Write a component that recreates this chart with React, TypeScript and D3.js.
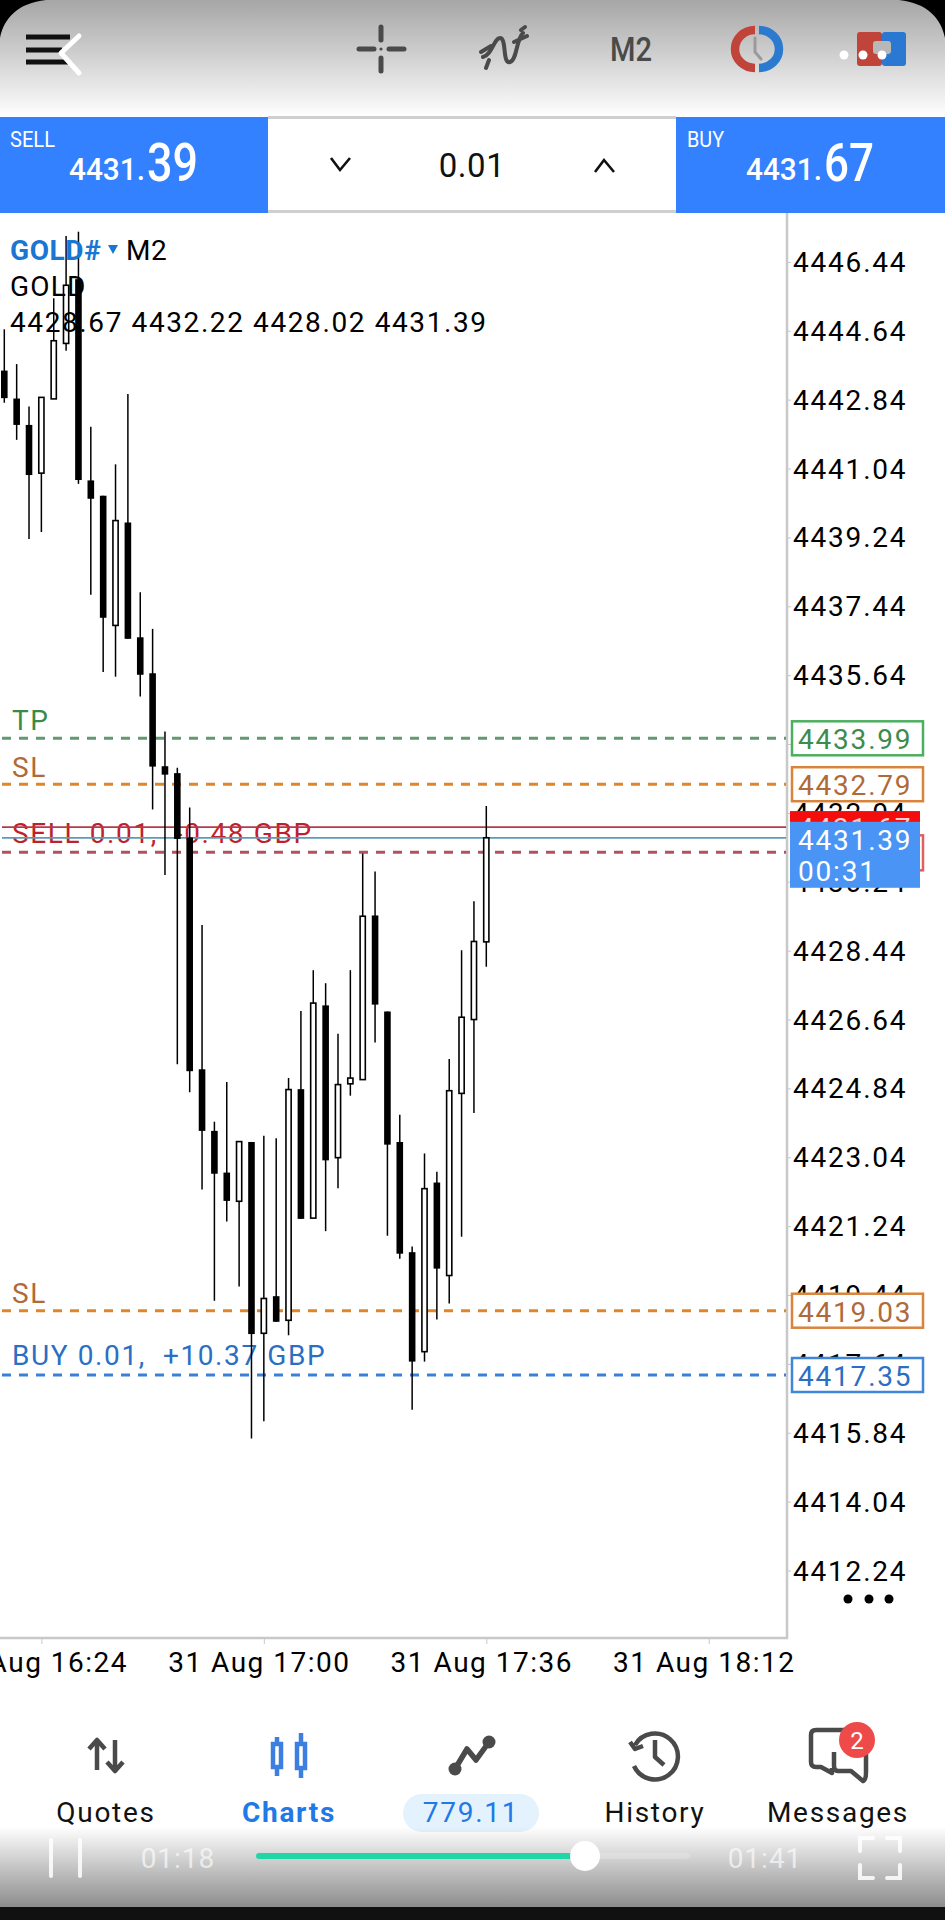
import React, { useRef, useEffect } from 'react';
import * as d3 from 'd3';

// candles, oldest first, 2 minute bars
const opens = [4443.6, 4442.87, 4442.18, 4440.92, 4442.86, 4444.31, 4445.99, 4440.73, 4440.33, 4436.94, 4439.63, 4436.63, 4435.69, 4433.26, 4433.08, 4431.4, 4425.34, 4423.73, 4422.64, 4421.89, 4423.44, 4418.44, 4419.41, 4418.78, 4424.82, 4421.45, 4427.01, 4423.03, 4424.96, 4425.07, 4429.36, 4426.85, 4423.44, 4420.56, 4417.96, 4422.38, 4419.95, 4424.71, 4426.64, 4428.67];
const highs = [4444.68, 4443.77, 4442.66, 4442.9, 4445.49, 4447.12, 4447.23, 4442.13, 4440.33, 4441.15, 4442.99, 4437.81, 4436.85, 4434.17, 4433.22, 4432.18, 4429.11, 4423.97, 4425.01, 4423.45, 4423.44, 4423.6, 4423.54, 4425.11, 4426.86, 4427.93, 4427.59, 4426.27, 4427.93, 4430.98, 4430.51, 4426.85, 4424.15, 4420.71, 4423.14, 4422.66, 4425.61, 4428.45, 4429.73, 4432.22];
const lows = [4442.76, 4441.79, 4439.2, 4439.38, 4442.86, 4444.12, 4440.64, 4437.74, 4435.72, 4435.6, 4436.59, 4435.08, 4432.13, 4430.42, 4425.47, 4424.74, 4422.2, 4419.29, 4421.36, 4419.66, 4415.69, 4416.14, 4418.74, 4418.39, 4421.43, 4421.45, 4421.11, 4422.23, 4424.65, 4425.07, 4426.04, 4420.99, 4420.39, 4416.44, 4417.7, 4418.8, 4419.22, 4420.96, 4424.2, 4428.02];
const closes = [4442.88, 4442.18, 4440.87, 4442.9, 4444.38, 4445.83, 4440.74, 4440.25, 4437.14, 4439.68, 4436.59, 4435.65, 4433.25, 4433.04, 4431.36, 4425.29, 4423.73, 4422.61, 4421.9, 4423.45, 4418.42, 4419.35, 4418.74, 4424.81, 4421.43, 4427.07, 4422.96, 4424.94, 4425.11, 4429.34, 4427.03, 4423.37, 4420.52, 4417.7, 4422.22, 4420.13, 4424.78, 4426.7, 4428.68, 4431.39];

const priceTicks = [4446.44, 4444.64, 4442.84, 4441.04, 4439.24, 4437.44, 4435.64, 4433.84, 4432.04, 4430.24, 4428.44, 4426.64, 4424.84, 4423.04, 4421.24, 4419.44, 4417.64, 4415.84, 4414.04, 4412.24];
const timeTicks = ['2025-08-31T16:24', '2025-08-31T17:00', '2025-08-31T17:36', '2025-08-31T18:12'];
const firstBar = '2025-08-31T16:18';
const lastBar = '2025-08-31T17:36';

const tpPrice = 4433.99;
const slUpperPrice = 4432.79;
const askPrice = 4431.67;
const bidPrice = 4431.39;
const sellPrice = 4431.01;
const slLowerPrice = 4419.03;
const buyPrice = 4417.35;

const font = 'Roboto, sans-serif';
const W = 945;
const H = 1920;
const plotRight = 787;
const plotBottom = 1638;

const App: React.FC = () => {
  const chartRef = useRef<SVGGElement | null>(null);

  useEffect(() => {
    if (!chartRef.current) return;
    const g = d3.select(chartRef.current);
    g.selectAll('*').remove();

    const x = d3.scaleTime()
      .domain([new Date(firstBar), new Date(lastBar)])
      .range([4.3, 486.3]);
    const y = d3.scaleLinear()
      .domain([tpPrice, buyPrice])
      .range([738.3, 1375]);
    const barTime = (i: number) => d3.timeMinute.offset(new Date(firstBar), i * 2);

    // axes
    const yAxis = d3.axisRight(y)
      .tickValues(priceTicks)
      .tickSize(4)
      .tickPadding(2)
      .tickFormat(d => d3.format('.2f')(d as number));
    g.append('g')
      .attr('transform', `translate(${plotRight},0)`)
      .call(yAxis)
      .call(s => s.select('.domain').remove())
      .call(s => s.selectAll('.tick line').attr('stroke', '#c8c8c8'))
      .call(s => s.selectAll('.tick text')
        .attr('fill', '#000')
        .attr('dy', '0.34em')
        .style('font-family', font)
        .style('font-size', '28px')
        .style('letter-spacing', '1.8px'));

    const xAxis = d3.axisBottom(x)
      .tickValues(timeTicks.map(d => new Date(d)))
      .tickSize(6)
      .tickPadding(8)
      .tickFormat(d => d3.timeFormat('%d %b %H:%M')(d as Date));
    g.append('g')
      .attr('transform', `translate(0,${plotBottom})`)
      .call(xAxis)
      .call(s => s.select('.domain').remove())
      .call(s => s.selectAll('.tick line').attr('stroke', '#c8c8c8'))
      .call(s => s.selectAll('.tick text')
        .attr('fill', '#000')
        .attr('dx', -5)
        .style('font-family', font)
        .style('font-size', '28px')
        .style('letter-spacing', '1.5px'));

    // frame
    g.append('path')
      .attr('d', `M${plotRight},213V${plotBottom}H0`)
      .attr('fill', 'none')
      .attr('stroke', '#c8c8c8')
      .attr('stroke-width', 2.5);

    // order labels sit under the candles
    const labels = [
      { text: 'TP', base: 730, color: '#3a8a4a' },
      { text: 'SL', base: 776.7, color: '#b06a3a' },
      { text: 'SELL 0.01,  -0.48 GBP', base: 843.3, color: '#c01f2e' },
      { text: 'SL', base: 1303, color: '#b06a3a' },
      { text: 'BUY 0.01,  +10.37 GBP', base: 1365, color: '#2a6fc4' },
    ];
    g.append('g').selectAll('text')
      .data(labels)
      .join('text')
      .attr('x', 12)
      .attr('y', d => d.base)
      .attr('fill', d => d.color)
      .style('font-family', font)
      .style('font-size', '28px')
      .style('letter-spacing', '1.6px')
      .style('white-space', 'pre')
      .text(d => d.text);

    // order and price lines
    const dashed = [
      { p: tpPrice, color: '#5f9a70' },
      { p: slUpperPrice, color: '#e0862a' },
      { p: sellPrice, color: '#b5505e' },
      { p: slLowerPrice, color: '#e0862a' },
      { p: buyPrice, color: '#3a80d8' },
    ];
    g.append('g').selectAll('line')
      .data(dashed)
      .join('line')
      .attr('x1', 2)
      .attr('x2', plotRight - 1)
      .attr('y1', d => y(d.p))
      .attr('y2', d => y(d.p))
      .attr('stroke', d => d.color)
      .attr('stroke-width', 3)
      .attr('stroke-dasharray', '9 8');

    const solid = [
      { p: askPrice, color: '#b33a4a' },
      { p: bidPrice, color: '#5b9bb5' },
    ];
    g.append('g').selectAll('line')
      .data(solid)
      .join('line')
      .attr('x1', 2)
      .attr('x2', plotRight - 1)
      .attr('y1', d => y(d.p))
      .attr('y2', d => y(d.p))
      .attr('stroke', d => d.color)
      .attr('stroke-width', 1.8);

    // candles
    const bars = opens.map((o, i) => ({
      t: barTime(i), o, h: highs[i], l: lows[i], c: closes[i], up: closes[i] > o,
    }));
    const candle = g.append('g').selectAll('g')
      .data(bars)
      .join('g');
    candle.append('line')
      .attr('x1', d => x(d.t))
      .attr('x2', d => x(d.t))
      .attr('y1', d => y(d.h))
      .attr('y2', d => y(d.l))
      .attr('stroke', '#000')
      .attr('stroke-width', 1.5);
    candle.append('rect')
      .attr('x', d => x(d.t) - (d.up ? 2.6 : 3.3))
      .attr('width', d => (d.up ? 5.2 : 6.6))
      .attr('y', d => y(Math.max(d.o, d.c)))
      .attr('height', d => Math.abs(y(d.o) - y(d.c)))
      .attr('fill', d => (d.up ? '#fff' : '#000'))
      .attr('stroke', '#000')
      .attr('stroke-width', d => (d.up ? 1.6 : 0));

    // price boxes on the right
    const boxes = [
      { p: tpPrice, stroke: '#4caf5f', text: '#3d8b4f' },
      { p: slUpperPrice, stroke: '#d9843b', text: '#b06a3a' },
      { p: slLowerPrice, stroke: '#d9843b', text: '#b06a3a' },
      { p: buyPrice, stroke: '#3f85d8', text: '#2a6fc4' },
    ];
    const box = g.append('g').selectAll('g')
      .data(boxes)
      .join('g')
      .attr('transform', d => `translate(0,${y(d.p)})`);
    box.append('rect')
      .attr('x', 792)
      .attr('y', -17)
      .attr('width', 131)
      .attr('height', 34)
      .attr('fill', '#fff')
      .attr('stroke', d => d.stroke)
      .attr('stroke-width', 2.5);
    box.append('text')
      .attr('x', 798)
      .attr('y', 11)
      .attr('fill', d => d.text)
      .style('font-family', font)
      .style('font-size', '28px')
      .style('letter-spacing', '1.8px')
      .text(d => d3.format('.2f')(d.p));

    g.append('rect')
      .attr('x', 792)
      .attr('y', y(sellPrice) - 17)
      .attr('width', 131)
      .attr('height', 35)
      .attr('fill', '#fff')
      .attr('stroke', '#e06060')
      .attr('stroke-width', 2.5);
    g.append('rect')
      .attr('x', 790)
      .attr('y', y(askPrice) - 16)
      .attr('width', 130)
      .attr('height', 34)
      .attr('fill', '#f40d0d');
    g.append('text')
      .attr('x', 798)
      .attr('y', y(askPrice) + 11)
      .attr('fill', '#ffd0d0')
      .style('font-family', font)
      .style('font-size', '28px')
      .style('letter-spacing', '1.8px')
      .text(d3.format('.2f')(askPrice));
    g.append('rect')
      .attr('x', 790)
      .attr('y', y(bidPrice) - 16)
      .attr('width', 130)
      .attr('height', 66)
      .attr('fill', '#4a94f5');
    const bidLabel = [d3.format('.2f')(bidPrice), '00:31'];
    g.append('g').selectAll('text')
      .data(bidLabel)
      .join('text')
      .attr('x', 798)
      .attr('y', (_, i) => y(bidPrice) + 12 + i * 31)
      .attr('fill', '#fff')
      .style('font-family', font)
      .style('font-size', '28px')
      .style('letter-spacing', '1.8px')
      .text(d => d);

    // header text over the candles
    const head = g.append('g').style('font-family', font).style('font-size', '28px');
    head.append('text').attr('x', 10).attr('y', 260).attr('fill', '#1976d2').attr('font-weight', 700).style('letter-spacing', '0.6px').text('GOLD#');
    head.append('path').attr('d', 'M108,245H118L113,254Z').attr('fill', '#1976d2');
    head.append('text').attr('x', 126).attr('y', 260).attr('fill', '#000').style('letter-spacing', '0.6px').text('M2');
    head.append('text').attr('x', 10).attr('y', 296).attr('fill', '#000').style('letter-spacing', '1.2px').text('GOLD');
    head.append('text')
      .attr('x', 10)
      .attr('y', 332)
      .attr('fill', '#000')
      .style('letter-spacing', '1.6px')
      .text([opens[39], highs[39], lows[39], closes[39]].map(d3.format('.2f')).join(' '));

    // more dots under the price axis
    g.append('g').selectAll('circle')
      .data([848, 869, 889])
      .join('circle')
      .attr('cx', d => d)
      .attr('cy', 1599)
      .attr('r', 4.5)
      .attr('fill', '#000');
  }, []);

  const ink = '#4a4a4a';
  return (
    <svg width={W} height={H} viewBox={`0 0 ${W} ${H}`}
      style={{ position: 'absolute', left: 0, top: 0, display: 'block', background: '#fff' }}
      fontFamily={font}>
      <defs>
        <linearGradient id="topFade" x1="0" y1="0" x2="0" y2="1">
          <stop offset="0" stopColor="#a6a6a6" />
          <stop offset="0.5" stopColor="#d2d2d2" />
          <stop offset="1" stopColor="#ffffff" />
        </linearGradient>
        <linearGradient id="bottomFade" x1="0" y1="0" x2="0" y2="1">
          <stop offset="0" stopColor="#888" stopOpacity="0" />
          <stop offset="1" stopColor="#8c8c8c" stopOpacity="1" />
        </linearGradient>
      </defs>

      {/* top bar */}
      <rect width={W} height={117} fill="url(#topFade)" />
      <path d={`M0,0H46C18,3 4,18 0,38Z`} fill="#000" />
      <path d={`M${W},0H${W - 46}C${W - 18},3 ${W - 4},18 ${W},38Z`} fill="#000" />
      <g stroke="#111" strokeWidth={5}>
        <line x1={26} x2={70} y1={37} y2={37} />
        <line x1={26} x2={62} y1={50} y2={50} />
        <line x1={26} x2={70} y1={62} y2={62} />
      </g>
      <path d="M79,36L61,53L79,73" fill="none" stroke="#fff" strokeWidth={5} strokeLinecap="round" strokeLinejoin="round" />
      <g stroke={ink} strokeWidth={5} strokeLinecap="round" fill="none">
        <path d="M381,27V40M381,58V71M359,49H374M389,49H404" />
        <path d="M483,57C492,55 494,38 500,38C507,38 502,64 510,62C517,60 516,40 523,33" strokeWidth={4} />
        <path d="M481,52L491,46M486,68L489,60M514,42L527,36M521,30L525,27" strokeWidth={4} />
      </g>
      <circle cx={381} cy={49} r={1.6} fill={ink} />
      <text x={631} y={61} textAnchor="middle" fontSize={34} fontWeight={500} fill={ink} textLength={42} lengthAdjust="spacingAndGlyphs">M2</text>
      <path d="M755,30A20,19 0 0 0 755,68" fill="none" stroke="#c0443a" strokeWidth={8.5} />
      <path d="M759,30A20,19 0 0 1 759,68" fill="none" stroke="#2a7ad0" strokeWidth={8.5} />
      <path d="M755,38V52L761,59" fill="none" stroke="#9a9a9a" strokeWidth={3} strokeLinecap="round" />
      <rect x={857} y={32} width={25} height={34} rx={3} fill="#c0443a" />
      <rect x={882} y={32} width={24} height={34} rx={3} fill="#2a78d2" />
      <rect x={873} y={41} width={18} height={13} rx={3} fill="#b8b8b8" />
      <circle cx={844} cy={55} r={4.5} fill="#fff" />
      <circle cx={863} cy={55} r={4.5} fill="#fff" />
      <circle cx={882} cy={55} r={4.5} fill="#fff" />

      {/* trade panel */}
      <rect x={268} y={116} width={408} height={97} fill="#fff" />
      <rect x={268} y={116} width={408} height={3} fill="#cfcfcf" />
      <rect x={268} y={210} width={408} height={3} fill="#cfcfcf" />
      <rect x={0} y={117} width={268} height={96} fill="#3381ff" />
      <rect x={676} y={117} width={269} height={96} fill="#3381ff" />
      <g fill="#fff">
        <text x={10} y={147} fontSize={22} textLength={45} lengthAdjust="spacingAndGlyphs">SELL</text>
        <text x={69} y={180} fontSize={32} fontWeight={500} textLength={76} lengthAdjust="spacingAndGlyphs">4431.</text>
        <text x={147} y={181} fontSize={54} fontWeight={500} textLength={51} lengthAdjust="spacingAndGlyphs">39</text>
        <text x={687} y={147} fontSize={22} textLength={37} lengthAdjust="spacingAndGlyphs">BUY</text>
        <text x={746} y={180} fontSize={32} fontWeight={500} textLength={76} lengthAdjust="spacingAndGlyphs">4431.</text>
        <text x={824} y={181} fontSize={54} fontWeight={500} textLength={50} lengthAdjust="spacingAndGlyphs">67</text>
      </g>
      <text x={472} y={177} textAnchor="middle" fontSize={33} fill="#111" letterSpacing={0.6}>0.01</text>
      <path d="M331,158L340,170L350,158M595,172L604,160L614,172" fill="none" stroke="#111" strokeWidth={2.6} />

      {/* chart */}
      <g ref={chartRef} />

      {/* bottom tabs */}
      <g fontSize={28} textAnchor="middle" letterSpacing={1.7}>
        <text x={106} y={1822} fill="#111">Quotes</text>
        <text x={289} y={1822} fill="#2079e6" fontWeight={700}>Charts</text>
        <rect x={403} y={1794} width={136} height={38} rx={19} fill="#e3f2fd" />
        <text x={471} y={1822} fill="#2079e6">779.11</text>
        <text x={655} y={1822} fill="#111">History</text>
        <text x={838} y={1822} fill="#111">Messages</text>
      </g>
      <g fill="none" stroke={ink} strokeWidth={4.5} strokeLinejoin="round">
        <path d="M97,1770V1741M89,1749L97,1740L105,1749M115,1740V1770M107,1762L115,1771L123,1762" />
        <path d="M455,1769L467,1749L476,1760L489,1742" strokeWidth={5.5} />
        <path d="M635,1745A23,23 0 1 1 634,1766M630,1742L635,1749L643,1746M655,1740V1757L664,1765" />
        <path d="M846,1730H816Q811,1730 811,1735V1762Q811,1767 816,1767H821L832,1773V1768" />
        <path d="M866,1745V1772Q866,1780 863,1781L851,1771H838Q834,1771 834,1766V1752" />
      </g>
      <circle cx={455} cy={1769} r={6.5} fill={ink} />
      <circle cx={489} cy={1742} r={6.5} fill={ink} />
      <g fill="none" stroke="#3d7fe0" strokeWidth={4.5}>
        <path d="M277,1737V1746M277,1767V1776M301,1733V1744M301,1768V1778" />
        <rect x={273} y={1744} width={8} height={23} />
        <rect x={297} y={1744} width={8} height={24} />
      </g>
      <circle cx={857} cy={1740} r={18} fill="#ee4a4a" />
      <text x={857} y={1749} textAnchor="middle" fontSize={24} fill="#fff">2</text>

      {/* video player overlay */}
      <rect x={0} y={1827} width={W} height={81} fill="url(#bottomFade)" />
      <rect x={0} y={1907} width={W} height={13} fill="#111" />
      <g stroke="#fff" strokeOpacity={0.85} strokeWidth={4} strokeLinecap="round" fill="none">
        <path d="M51,1840V1876M80,1840V1876" />
        <path d="M860,1851V1838H873M887,1838H900V1851M860,1865V1878H873M887,1878H900V1865" />
      </g>
      <g fontSize={28} textAnchor="middle" fill="#fff" fillOpacity={0.65} letterSpacing={1}>
        <text x={178} y={1868}>01:18</text>
        <text x={765} y={1868}>01:41</text>
      </g>
      <rect x={256} y={1853} width={434} height={6} rx={3} fill="#fff" fillOpacity={0.2} />
      <rect x={256} y={1853} width={328} height={6} rx={3} fill="#1fd6a6" />
      <circle cx={585} cy={1856} r={15} fill="#fff" />
    </svg>
  );
};

export default App;
